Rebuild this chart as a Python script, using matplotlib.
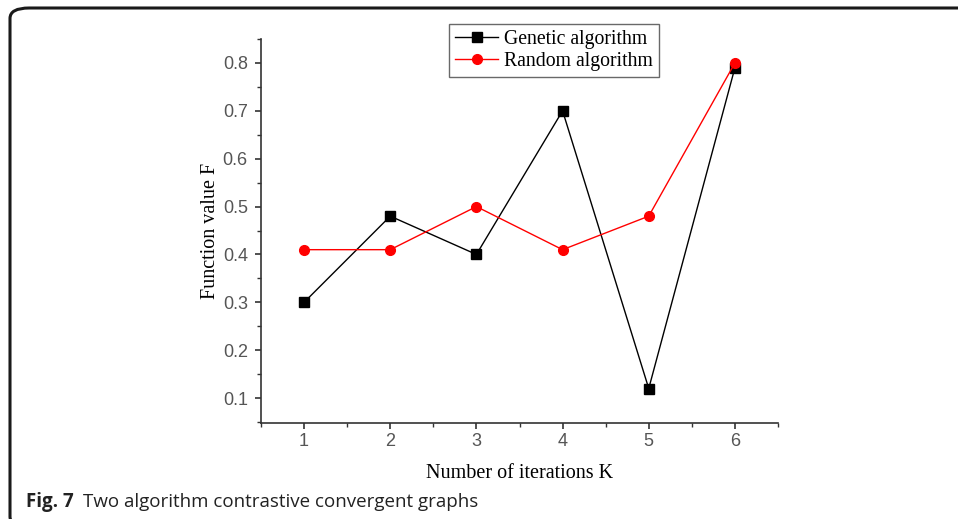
import matplotlib
matplotlib.use('Agg')
import matplotlib.pyplot as plt
from matplotlib.patches import FancyBboxPatch
from matplotlib.ticker import MultipleLocator

# 데이터
iterations = [1, 2, 3, 4, 5, 6]
genetic = [0.30, 0.48, 0.40, 0.70, 0.12, 0.79]
random_alg = [0.41, 0.41, 0.50, 0.41, 0.48, 0.80]

W, H = 958, 519
fig = plt.figure(figsize=(W / 100, H / 100), dpi=100)

# 패널 테두리 (왼쪽 위 둥근 모서리, 오른쪽/아래는 그림 밖으로)
frame = FancyBboxPatch((10 / W, -8 / H), 1.2, H / H,
                       boxstyle='round,pad=0,rounding_size=0.02',
                       transform=fig.transFigure, fill=False,
                       edgecolor='#1a1a1a', linewidth=2.2)
fig.patches.append(frame)

ax = fig.add_axes([261 / W, 1 - 423 / H, (778 - 261) / W, (423 - 39) / H])
ax.plot(iterations, genetic, color='black', marker='s', markersize=7,
        linewidth=1, label='Genetic algorithm')
ax.plot(iterations, random_alg, color='red', marker='o', markersize=7,
        linewidth=1, label='Random algorithm')

ax.set_xlim(0.5, 6.5)
ax.set_ylim(0.048, 0.85)
ax.xaxis.set_major_locator(MultipleLocator(1))
ax.xaxis.set_minor_locator(MultipleLocator(0.5))
ax.yaxis.set_major_locator(MultipleLocator(0.1))
ax.yaxis.set_minor_locator(MultipleLocator(0.05))
ax.spines['top'].set_visible(False)
ax.spines['right'].set_visible(False)
for s in ['left', 'bottom']:
    ax.spines[s].set_color('#333333')
    ax.spines[s].set_linewidth(1.2)
ax.tick_params(which='major', direction='out', length=4.5, width=1.2,
               color='#333333', labelcolor='#555555', labelsize=13)
ax.tick_params(which='minor', direction='out', length=3, width=1.0,
               color='#333333')
for lab in ax.get_xticklabels() + ax.get_yticklabels():
    lab.set_family('Liberation Sans')
ax.tick_params(axis='x', pad=3)
ax.tick_params(axis='y', pad=5)

ax.set_xlabel('Number of iterations K', family='Liberation Serif',
              fontsize=14.5, labelpad=10)
ax.set_ylabel('Function value F', family='Liberation Serif',
              fontsize=14.5, labelpad=2)

leg = ax.legend(loc='upper left', bbox_to_anchor=((449 - 261) / (778 - 261), 1 + 15 / 384),
                prop={'family': 'Liberation Serif', 'size': 14.2},
                frameon=True, fancybox=False, edgecolor='#444444',
                handlelength=2.2, handletextpad=0.3, borderpad=0.3,
                labelspacing=0.15, borderaxespad=0)
leg.get_frame().set_linewidth(1.0)

fig.text(26 / W, 1 - 502 / H, 'Fig. 7', fontsize=13.5, va='center',
         family='Open Sans', weight='bold', color='#222222')
fig.text(83 / W, 1 - 502 / H, 'Two algorithm contrastive convergent graphs',
         fontsize=13.5, va='center', family='Open Sans', color='#222222')

fig.savefig('out.png', dpi=100)
